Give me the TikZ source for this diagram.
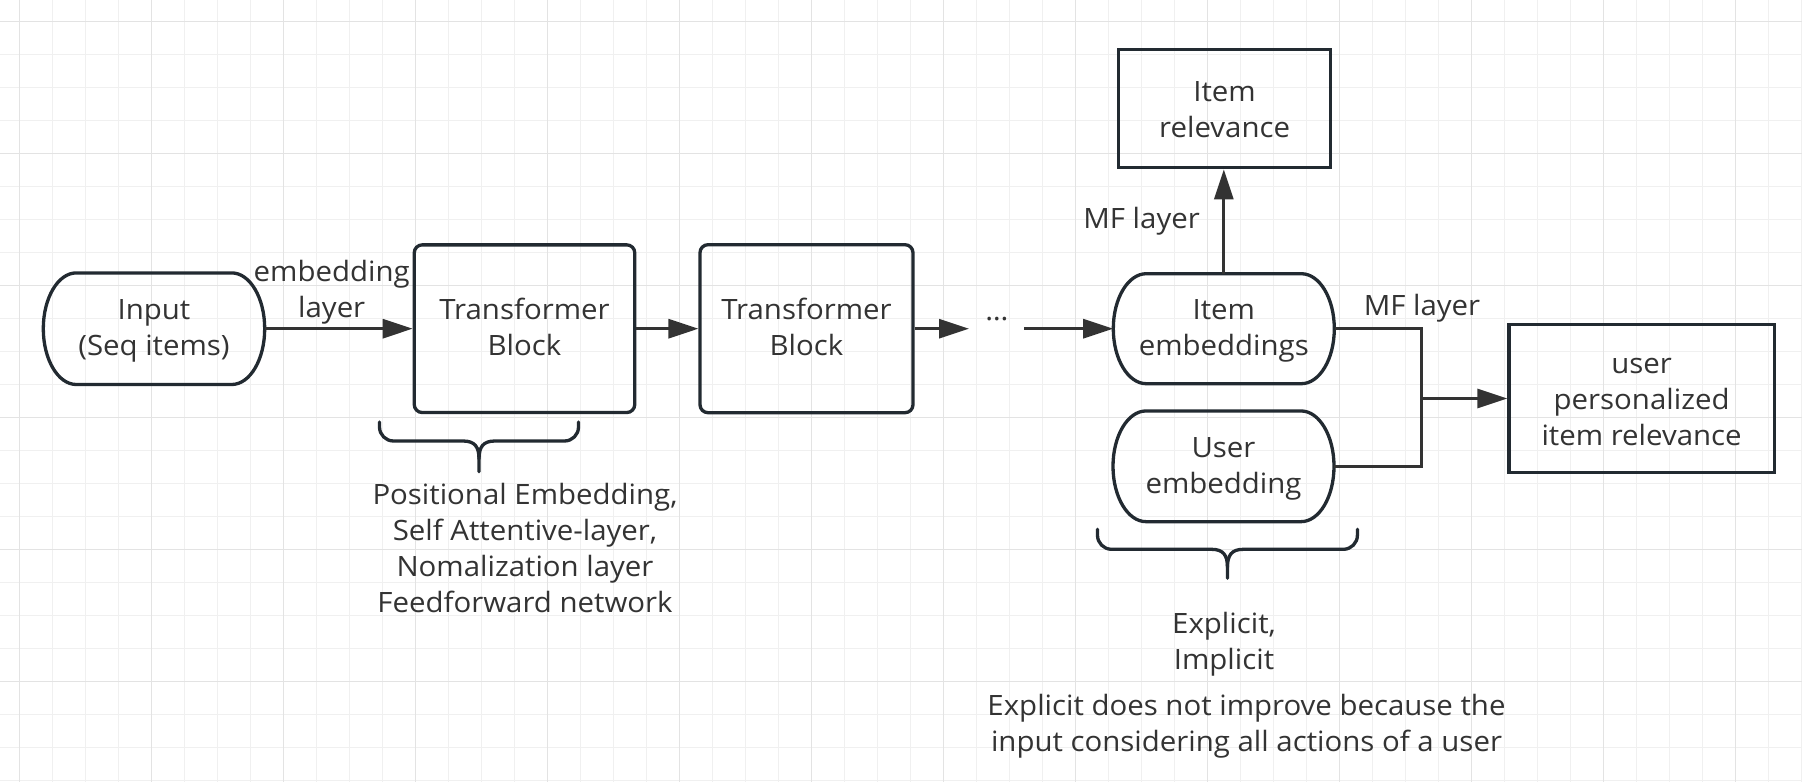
\documentclass[tikz,border=0pt]{standalone}
\usepackage{fontspec}
\setmainfont{Open Sans}[FakeStretch=1.05]
\usetikzlibrary{arrows.meta}
\definecolor{ink}{HTML}{222A31}
\definecolor{arr}{HTML}{333333}
\definecolor{txt}{HTML}{333333}
\definecolor{gminor}{HTML}{F0F0F0}
\definecolor{gmajor}{HTML}{E3E3E3}
\newcommand\rs{\rule[-9pt]{0pt}{36pt}}
\newcommand\rsd{\rule[-9pt]{0pt}{40pt}}
\tikzset{
  basetxt/.style={font=\fontsize{28}{36}\selectfont, text=txt, align=center, inner sep=0pt},
  boxr/.style={basetxt, draw=ink, line width=3.3pt, rounded corners=8pt},
  boxs/.style={basetxt, draw=ink, line width=3.3pt},
  stadline/.style={draw=ink, line width=3.3pt},
  conn/.style={draw=arr, line width=3pt},
  arrowed/.style={conn, -{Triangle[length=30pt,width=19pt]}},
  lab/.style={basetxt},
  bracel/.style={draw=ink, line width=3.3pt, line cap=round, line join=round},
  gmin/.style={draw=gminor, line width=1pt},
  gmaj/.style={draw=gmajor, line width=1pt},
}
\newcommand\mystadium[6]{%
  \node[basetxt, minimum width=#4pt, minimum height=#5pt] (#1) at (#2,-#3) {#6};
  \draw[stadline] ({#2-#4/2+33},{-#3+#5/2}) -- ({#2+#4/2-33},{-#3+#5/2})
    arc[start angle=90,end angle=-90,x radius=33,y radius=#5/2]
    -- ({#2-#4/2+33},{-#3-#5/2})
    arc[start angle=270,end angle=90,x radius=33,y radius=#5/2] -- cycle;
}
\newcommand\mybrace[5]{%
  \draw[bracel] (#1,-#3) -- (#1,{-(#4-14)}) arc[start angle=180,end angle=270,radius=14]
    -- ({(#1+#2)/2-16},-#4) .. controls ({(#1+#2)/2-4},-#4) and ({(#1+#2)/2},{-#4-6}) .. ({(#1+#2)/2},{-#4-18})
    -- ({(#1+#2)/2},-#5);
  \draw[bracel] (#2,-#3) -- (#2,{-(#4-14)}) arc[start angle=0,end angle=-90,radius=14]
    -- ({(#1+#2)/2+16},-#4) .. controls ({(#1+#2)/2+4},-#4) and ({(#1+#2)/2},{-#4-6}) .. ({(#1+#2)/2},{-#4-18});
}
\begin{document}
\begin{tikzpicture}[x=1pt,y=1pt]
\useasboundingbox (0,0) rectangle (1802,-782);
\fill[white] (0,0) rectangle (1802,-782);
% grid
\foreach \i in {0,...,54} { \draw[gmin] ({19.1+33*\i},0) -- ({19.1+33*\i},-782); }
\foreach \k in {0,...,23} { \draw[gmin] (0,{-21.3-33*\k}) -- (1802,{-21.3-33*\k}); }
\foreach \i in {0,...,13} { \draw[gmaj] ({19.1+132*\i},0) -- ({19.1+132*\i},-782); }
\foreach \k in {0,...,5} { \draw[gmaj] (0,{-21.3-132*\k}) -- (1802,{-21.3-132*\k}); }
% nodes
\mystadium{in}{154}{328.7}{221.4}{111.6}{\rs Input\\\rs (Seq items)}
\node[boxr, minimum width=220.5pt, minimum height=167.7pt] (tb1) at (524.5,-328.7) {\rs Transformer\\\rs Block};
\node[boxr, minimum width=213pt, minimum height=168pt] (tb2) at (806.5,-328.7) {\rs Transformer\\\rs Block};
\node[font=\fontsize{28}{36}\selectfont, text=txt, inner sep=0pt, anchor=base] (dots) at (997,-320) {…};
\coordinate (d1) at (969,-328.7);
\coordinate (d2) at (1024,-328.7);
\mystadium{ie}{1223.8}{328.7}{221}{110}{\rs Item\\\rs embeddings}
\mystadium{ue}{1223.5}{466.3}{221}{110.7}{\rs User\\\rs embedding}
\node[boxs, minimum width=212pt, minimum height=118.4pt] (ir) at (1224.6,-108.5) {\rsd Item\\\rs relevance};
\node[boxs, minimum width=265.2pt, minimum height=148.4pt] (up) at (1641.6,-398.5) {\rsd user\\\rs personalized\\\rs item relevance};
\coordinate (j) at (1421.7,-398.5);
% connectors
\draw[arrowed] (in.east) -- (tb1.west);
\draw[arrowed] (tb1.east) -- (tb2.west);
\draw[arrowed] (tb2.east) -- (d1);
\draw[arrowed] (d2) -- (ie.west);
\draw[arrowed] (ie.north) -- (ie.north |- ir.south);
\draw[conn] (ie.east) -| (j);
\draw[conn] (ue.east) -| (j);
\draw[arrowed] (j) -- (up.west);
% labels
\node[lab] (emb) at (331.7,-290.5) {\rs embedding\\\rs layer};
\node[lab] (mf1) at (1141.6,-219.5) {\rs MF layer};
\node[lab] (mf2) at (1422,-306.8) {\rs MF layer};
\node[lab] (t1) at (525,-549) {\rs Positional Embedding,\\\rs Self Attentive-layer,\\\rs Nomalization layer\\\rs Feedforward network};
\node[lab] (t2) at (1224,-642.5) {\rs Explicit,\\\rs Implicit};
\node[lab] (t3) at (1246.5,-724.2) {\rs Explicit does not improve because the\\\rs input considering all actions of a user};
% braces
\mybrace{379.5}{578.5}{422}{441}{471.7}
\mybrace{1097.5}{1357.4}{529.3}{549.3}{578.3}
\end{tikzpicture}
\end{document}
